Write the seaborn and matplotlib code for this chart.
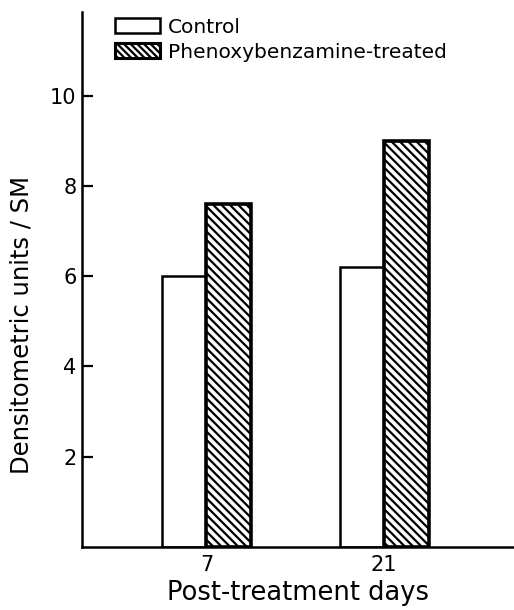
import matplotlib
matplotlib.use("Agg")
import matplotlib.pyplot as plt
import seaborn as sns
import pandas as pd
from matplotlib.patches import Patch

days = ["7", "21"]
groups = ["Control", "Phenoxybenzamine-treated"]
control_vals = [6.0, 6.2]
treated_vals = [7.6, 9.0]
y_ticks = [2, 4, 6, 8, 10]

df = pd.DataFrame({
    "day": days * 2,
    "group": [groups[0]] * 2 + [groups[1]] * 2,
    "value": control_vals + treated_vals,
})

sns.set_theme(style="white")
plt.rcParams['font.family'] = ['DejaVu Sans']
plt.rcParams['hatch.linewidth'] = 1.6
plt.rcParams['text.color'] = 'black'
plt.rcParams['axes.labelcolor'] = 'black'
plt.rcParams['xtick.color'] = 'black'
plt.rcParams['ytick.color'] = 'black'

fig = plt.figure(figsize=(5.14, 6.10), dpi=100)
ax = fig.add_axes([82/514, 1 - 547/610, 1 - 82/514, (547 - 12)/610])

sns.barplot(data=df, x="day", y="value", hue="group", order=days,
            hue_order=groups, palette=["white", "white"], width=0.5,
            edgecolor="black", linewidth=1.8, saturation=1, ax=ax, legend=False)

for bar in ax.containers[1]:
    bar.set_hatch("\\\\\\\\")
    bar.set_linewidth(2.6)
    bar.set_edgecolor("black")

ax.set_xlim(-0.70, 1.73)
ax.set_ylim(0, 11.85)
ax.set_yticks(y_ticks)
ax.set_yticklabels([str(t) for t in y_ticks], fontsize=15)
ax.tick_params(axis='y', direction='in', length=8, width=1.6, color='black', pad=4, left=True)
ax.tick_params(axis='x', length=0, labelsize=15, pad=6)

for s in ["top", "right"]:
    ax.spines[s].set_visible(False)
for s in ["left", "bottom"]:
    ax.spines[s].set_color("black")
    ax.spines[s].set_linewidth(1.8)

ax.set_xlabel("Post-treatment days", fontsize=18.5, labelpad=3)
ax.set_ylabel("Densitometric units / SM", fontsize=17.5)
ax.yaxis.set_label_coords(-0.112, 0.415)

handles = [Patch(facecolor="white", edgecolor="black", linewidth=1.8, label=groups[0]),
           Patch(facecolor="white", edgecolor="black", linewidth=2.2, hatch="\\\\\\\\\\", label=groups[1])]
leg = ax.legend(handles=handles, loc="upper left", bbox_to_anchor=(0.049, 1.012),
                frameon=False, fontsize=14.5, handlelength=2.2, handleheight=0.75,
                handletextpad=0.4, labelspacing=0.3, borderaxespad=0.2)

fig.savefig("out.png", dpi=100)
